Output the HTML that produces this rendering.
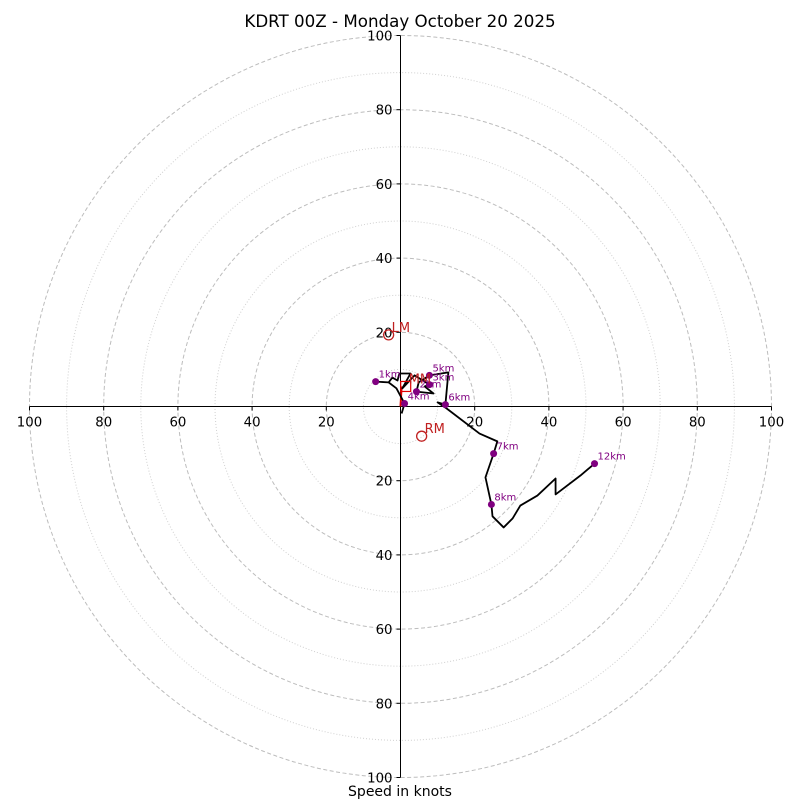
<!DOCTYPE html>
<html><head><meta charset="utf-8"><style>
body{margin:0;background:#fff}
svg text{font-family:"DejaVu Sans","Liberation Sans",sans-serif}
</style></head><body>
<svg id="chart" width="800" height="800" viewBox="0 0 800 800" xmlns="http://www.w3.org/2000/svg">
<rect width="800" height="800" fill="#fff"/>
<text x="400" y="27" font-size="16.7" text-anchor="middle">KDRT 00Z - Monday October 20 2025</text>
<text x="400" y="796" font-size="14" text-anchor="middle">Speed in knots</text>
<g id="rings"></g><g id="axes"></g><g id="plot"></g>
</svg>
<script>
const uKnots=[0.3,1.1,-1.1,-3.2,-6.7,-3.2,-2.2,-0.8,-0.3,2.7,0.5,3.8,7.8,6.5,8.9,4.3,4.9,7.8,12.9,12.1,10.0,12.4,21.3,26.1,25.1,22.9,24.5,24.8,27.8,30.2,32.3,36.9,41.8,41.8,48.5,50.4,52.3];
const vKnots=[-1.9,0.8,4.9,6.5,6.7,6.5,7.8,7.0,8.9,8.9,4.9,8.4,5.9,5.4,3.5,4.0,6.5,8.4,9.2,0.5,1.1,-0.5,-7.3,-9.4,-12.7,-19.1,-26.4,-29.6,-32.6,-30.2,-26.7,-24.0,-19.4,-23.7,-18.6,-17.0,-15.4];
const markerLabels=["1km","2km","3km","4km","5km","6km","7km","8km","12km"];
const markerU=[-6.7,4.3,7.8,1.1,7.8,12.1,25.1,24.5,52.3];
const markerV=[6.7,4.0,5.9,0.8,8.4,0.5,-12.7,-26.4,-15.4];
const stormNames=["LM","MM","RM"];
const stormU=[-3.2,1.4,5.7];
const stormV=[19.3,5.4,-8.0];
const tickValues=[20,40,60,80,100];
const NS="http://www.w3.org/2000/svg";
const cx=400.5,cy=406.5,k=3.71;
const X=u=>cx+u*k, Y=v=>cy-v*k;
function mk(tag,attrs,parent,txt){const e=document.createElementNS(NS,tag);for(const a in attrs)e.setAttribute(a,attrs[a]);if(txt!==undefined)e.textContent=txt;document.getElementById(parent).appendChild(e);return e;}
for(let r=10;r<=100;r+=10){
  const c=mk('circle',{cx:cx,cy:cy,r:r*k,fill:'none',stroke:r%20===0?'#bdbdbd':'#d0d0d0','stroke-width':1,'stroke-dasharray':r%20===0?'4,2.5':'1,2'},'rings');
  
  
}
const ax=mk('line',{x1:X(-100),y1:cy,x2:X(100),y2:cy,stroke:'#000','stroke-width':1},'axes');


const ay=mk('line',{x1:cx,y1:Y(100),x2:cx,y2:Y(-100),stroke:'#000','stroke-width':1},'axes');


tickValues.forEach(t=>{
  [-1,1].forEach(s=>{
    const tx=mk('text',{x:X(s*t),y:cy+20,'font-size':13.3,'text-anchor':'middle'},'axes',String(t));
    
    
    mk('line',{x1:X(s*t),y1:cy,x2:X(s*t),y2:cy+4,stroke:'#000'},'axes');
    const ty=mk('text',{x:cx-8,y:Y(s*t)+5,'font-size':13.3,'text-anchor':'end'},'axes',String(t));
    
    
    mk('line',{x1:cx-4,y1:Y(s*t),x2:cx,y2:Y(s*t),stroke:'#000'},'axes');
  });
});
const rl=mk('line',{x1:X(0),y1:Y(0),x2:X(0.3),y2:Y(5.4),stroke:'#e00000','stroke-width':2},'plot');


const pts=uKnots.map((u,i)=>X(u)+','+Y(vKnots[i])).join(' ');
const pl=mk('polyline',{points:pts,fill:'none',stroke:'#000','stroke-width':1.8,'stroke-linejoin':'round'},'plot');


markerLabels.forEach((l,i)=>{
  const c=mk('circle',{cx:X(markerU[i]),cy:Y(markerV[i]),r:3.5,fill:'#800080'},'plot');
  
  
  const t=mk('text',{x:X(markerU[i])+3,y:Y(markerV[i])-4,'font-size':10,fill:'#800080'},'plot',l);
  
  
});
stormNames.forEach((n,i)=>{
  const x=X(stormU[i]),y=Y(stormV[i]);
  let m;
  if(n==='MM') m=mk('rect',{x:x-5,y:y-5,width:10,height:10,fill:'none',stroke:'#e00000','stroke-width':1.2},'plot');
  else m=mk('circle',{cx:x,cy:y,r:5,fill:'none',stroke:'#c02020','stroke-width':1.3},'plot');
  
  
  const t=mk('text',{x:x+3,y:y-3,'font-size':13,fill:'#c02020'},'plot',n);
  
  
});
</script>
</body></html>
